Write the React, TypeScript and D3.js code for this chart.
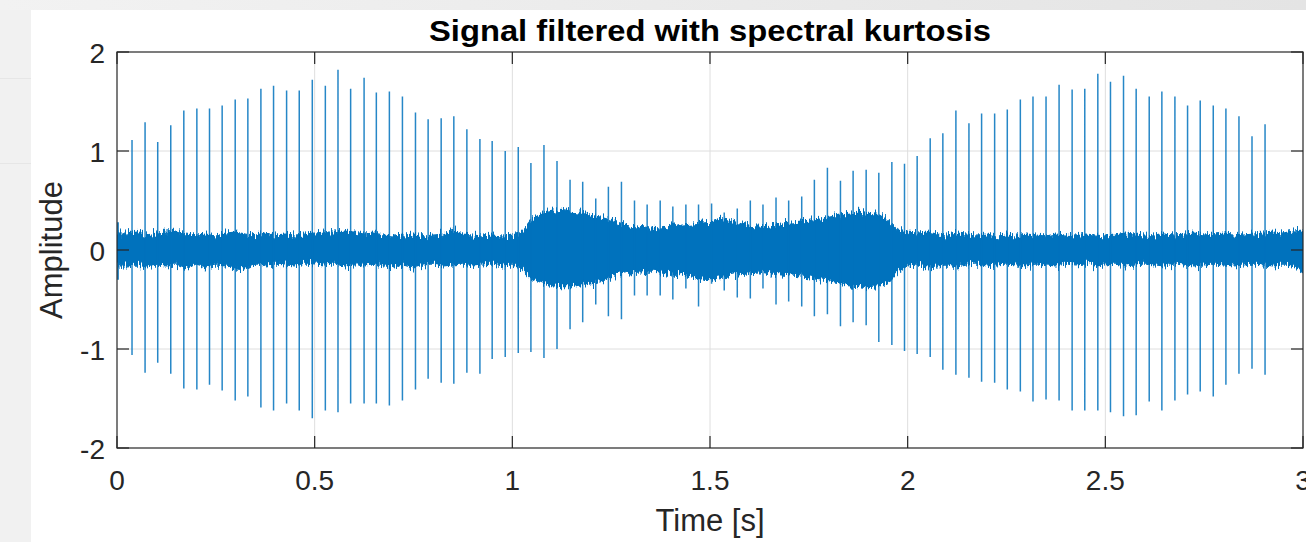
import React from "react";
import * as d3 from "d3";

// Impulse train: time of each impact [s] and its positive / negative peak amplitude
const spikeT = [
  0.038, 0.071, 0.103, 0.136, 0.169, 0.202, 0.234, 0.266, 0.299, 0.331,
  0.364, 0.396, 0.429, 0.461, 0.494, 0.527, 0.559, 0.591, 0.625, 0.656,
  0.689, 0.722, 0.755, 0.787, 0.820, 0.852, 0.885, 0.918, 0.949, 0.982,
  1.015, 1.047, 1.080, 1.113, 1.146, 1.178, 1.211, 1.243, 1.276, 1.309,
  1.341, 1.374, 1.406, 1.439, 1.471, 1.504, 1.536, 1.569, 1.602, 1.634,
  1.667, 1.699, 1.732, 1.764, 1.797, 1.830, 1.862, 1.895, 1.927, 1.960,
  1.992, 2.024, 2.057, 2.089, 2.122, 2.155, 2.187, 2.220, 2.252, 2.285,
  2.317, 2.350, 2.383, 2.416, 2.448, 2.481, 2.513, 2.546, 2.578, 2.611,
  2.643, 2.676, 2.708, 2.740, 2.773, 2.805, 2.838, 2.871, 2.904,
];
const spikeHi = [
  1.11, 1.29, 1.09, 1.26, 1.41, 1.43, 1.43, 1.46, 1.52, 1.53,
  1.63, 1.66, 1.61, 1.61, 1.72, 1.66, 1.82, 1.63, 1.74, 1.59,
  1.60, 1.55, 1.39, 1.32, 1.33, 1.35, 1.22, 1.12, 1.10, 1.00,
  1.04, 0.88, 1.06, 0.90, 0.71, 0.69, 0.52, 0.64, 0.69, 0.50,
  0.46, 0.50, 0.44, 0.46, 0.46, 0.47, 0.38, 0.42, 0.50, 0.46,
  0.53, 0.50, 0.54, 0.71, 0.83, 0.70, 0.80, 0.81, 0.78, 0.89,
  0.87, 0.95, 1.13, 1.18, 1.41, 1.28, 1.38, 1.38, 1.42, 1.52,
  1.55, 1.55, 1.67, 1.62, 1.63, 1.78, 1.70, 1.76, 1.63, 1.55,
  1.60, 1.55, 1.46, 1.51, 1.46, 1.43, 1.35, 1.15, 1.27,
];
const spikeLo = [
  -1.06, -1.24, -1.14, -1.25, -1.40, -1.41, -1.36, -1.42, -1.52, -1.48,
  -1.59, -1.62, -1.55, -1.62, -1.70, -1.62, -1.64, -1.55, -1.55, -1.55,
  -1.57, -1.52, -1.41, -1.30, -1.34, -1.35, -1.24, -1.25, -1.10, -1.08,
  -1.04, -1.03, -1.09, -1.00, -0.80, -0.73, -0.55, -0.67, -0.70, -0.46,
  -0.46, -0.46, -0.50, -0.39, -0.57, -0.34, -0.41, -0.48, -0.49, -0.39,
  -0.55, -0.52, -0.57, -0.67, -0.65, -0.77, -0.73, -0.76, -0.93, -0.96,
  -1.02, -1.05, -1.08, -1.21, -1.26, -1.29, -1.33, -1.34, -1.41, -1.43,
  -1.53, -1.51, -1.52, -1.62, -1.62, -1.62, -1.64, -1.68, -1.67, -1.53,
  -1.62, -1.52, -1.46, -1.43, -1.48, -1.36, -1.25, -1.20, -1.26,
];

// Broadband noise floor: upper / lower envelope sampled every 25 ms from 0 to 3 s
const noiseHi = [
  0.17, 0.17, 0.19, 0.15, 0.17, 0.18, 0.19, 0.16, 0.15, 0.16,
  0.14, 0.17, 0.18, 0.16, 0.15, 0.17, 0.15, 0.16, 0.15, 0.16,
  0.17, 0.18, 0.18, 0.19, 0.18, 0.16, 0.17, 0.15, 0.14, 0.15,
  0.16, 0.14, 0.15, 0.16, 0.20, 0.16, 0.15, 0.14, 0.15, 0.14,
  0.15, 0.18, 0.31, 0.37, 0.39, 0.40, 0.38, 0.37, 0.35, 0.33,
  0.30, 0.27, 0.25, 0.24, 0.22, 0.21, 0.23, 0.26, 0.27, 0.28,
  0.29, 0.32, 0.30, 0.27, 0.24, 0.23, 0.25, 0.27, 0.28, 0.29,
  0.30, 0.31, 0.33, 0.35, 0.37, 0.38, 0.37, 0.36, 0.30, 0.20,
  0.18, 0.17, 0.18, 0.16, 0.15, 0.17, 0.16, 0.15, 0.16, 0.14,
  0.15, 0.14, 0.16, 0.15, 0.14, 0.16, 0.15, 0.14, 0.16, 0.15,
  0.14, 0.15, 0.17, 0.16, 0.15, 0.14, 0.16, 0.15, 0.16, 0.17,
  0.15, 0.16, 0.17, 0.16, 0.15, 0.16, 0.17, 0.18, 0.17, 0.19,
  0.20,
];
const noiseLo = [
  -0.16, -0.16, -0.15, -0.17, -0.15, -0.16, -0.15, -0.19, -0.14, -0.17,
  -0.15, -0.16, -0.18, -0.19, -0.14, -0.15, -0.14, -0.15, -0.16, -0.13,
  -0.14, -0.15, -0.14, -0.16, -0.15, -0.15, -0.14, -0.16, -0.17, -0.15,
  -0.18, -0.15, -0.14, -0.16, -0.15, -0.14, -0.16, -0.15, -0.14, -0.16,
  -0.15, -0.19, -0.29, -0.33, -0.36, -0.37, -0.37, -0.35, -0.33, -0.32,
  -0.27, -0.25, -0.23, -0.22, -0.21, -0.22, -0.24, -0.25, -0.27, -0.29,
  -0.30, -0.28, -0.26, -0.24, -0.23, -0.22, -0.24, -0.25, -0.26, -0.27,
  -0.28, -0.30, -0.31, -0.33, -0.36, -0.37, -0.38, -0.37, -0.33, -0.22,
  -0.16, -0.15, -0.17, -0.16, -0.15, -0.17, -0.15, -0.14, -0.16, -0.15,
  -0.14, -0.15, -0.16, -0.14, -0.15, -0.16, -0.14, -0.15, -0.14, -0.16,
  -0.15, -0.14, -0.16, -0.15, -0.14, -0.15, -0.16, -0.14, -0.15, -0.16,
  -0.15, -0.14, -0.15, -0.16, -0.15, -0.14, -0.15, -0.16, -0.15, -0.16,
  -0.22,
];
const noiseStep = 0.025;

// Start-up transient at t = 0
const edgeT = 0;
const edgeHi = 0.28;
const edgeLo = -0.3;

const xTicks = [0, 0.5, 1, 1.5, 2, 2.5, 3];
const yTicks = [-2, -1, 0, 1, 2];
const xTickLabels = ["0", "0.5", "1", "1.5", "2", "2.5", "3"];
const yTickLabels = ["-2", "-1", "0", "1", "2"];

const W = 1306;
const H = 542;
const FONT = "'Liberation Sans', Arial, Helvetica, sans-serif";
const BLUE = "#0072BD";
const AX = "#262626";

export default function App() {
  const x = d3.scaleLinear().domain([0, 3]).range([117, 1303]);
  const y = d3.scaleLinear().domain([-2, 2]).range([448, 52]);
  const [x0, x1] = x.range();
  const [yb, yt] = y.range();

  const noiseT = noiseHi.map((_, i) => i * noiseStep);
  const band = d3
    .area<number>()
    .x((_, i) => x(noiseT[i]))
    .y0((_, i) => y(noiseLo[i]))
    .y1((_, i) => y(noiseHi[i]))(noiseHi) as string;

  const spikes = spikeT
    .map((t, i) => `M${x(t)},${y(spikeHi[i])}L${x(t)},${y(spikeLo[i])}`)
    .join("");

  const tickLen = 12;

  return (
    <svg
      width={W}
      height={H}
      style={{ position: "fixed", left: 0, top: 0, display: "block" }}
    >
      <defs>
        <linearGradient id="topStrip" x1="0" x2="1" y1="0" y2="0">
          <stop offset="0" stopColor="#f2f2f2" />
          <stop offset="0.5" stopColor="#ebebeb" />
          <stop offset="1" stopColor="#e4e4e4" />
        </linearGradient>
        <clipPath id="plotClip">
          <rect x={x0} y={yt} width={x1 - x0} height={yb - yt} />
        </clipPath>
        {/* ragged edge of the densely sampled trace (vertical displacement only) */}
        <filter
          id="ragged"
          x="-0.01"
          y="-0.3"
          width="1.02"
          height="1.6"
          colorInterpolationFilters="sRGB"
        >
          <feTurbulence type="fractalNoise" baseFrequency="0.6 0.06" numOctaves={2} seed={7} result="turb" />
          <feColorMatrix
            in="turb"
            type="matrix"
            values="0 0 0 0 0.5  0 1 0 0 0  0 0 0 0 0  0 0 0 0 1"
            result="shift"
          />
          <feDisplacementMap
            in="SourceGraphic"
            in2="shift"
            scale={16}
            xChannelSelector="R"
            yChannelSelector="G"
          />
        </filter>
      </defs>

      {/* surrounding canvas and figure panel */}
      <rect x={0} y={0} width={W} height={H} fill="#f1f1f1" />
      <rect x={0} y={0} width={W} height={10} fill="url(#topStrip)" />
      <rect x={0} y={78} width={31} height={1} fill="#e6e6e6" />
      <rect x={0} y={163} width={31} height={1} fill="#e6e6e6" />
      <rect x={31} y={10} width={W - 31} height={H - 10} fill="#ffffff" />

      {/* grid */}
      <g stroke="#dedede" strokeWidth={1}>
        {xTicks.slice(1, -1).map((t) => (
          <line key={`gx${t}`} x1={x(t)} x2={x(t)} y1={yt} y2={yb} />
        ))}
        {yTicks.slice(1, -1).map((v) => (
          <line key={`gy${v}`} x1={x0} x2={x1} y1={y(v)} y2={y(v)} />
        ))}
      </g>

      {/* signal */}
      <g clipPath="url(#plotClip)">
        <g filter="url(#ragged)">
          <path d={band} fill={BLUE} stroke={BLUE} strokeWidth={1.2} strokeLinejoin="round" />
        </g>
        <line
          x1={x(edgeT) + 1}
          x2={x(edgeT) + 1}
          y1={y(edgeHi)}
          y2={y(edgeLo)}
          stroke={BLUE}
          strokeWidth={1.6}
        />
        <path d={spikes} stroke={BLUE} strokeWidth={1.5} fill="none" opacity={0.85} />
      </g>

      {/* axes box and ticks */}
      <g stroke={AX} strokeWidth={1.2} fill="none">
        <rect x={x0} y={yt} width={x1 - x0} height={yb - yt} />
        {xTicks.map((t) => (
          <g key={`tx${t}`}>
            <line x1={x(t)} x2={x(t)} y1={yb} y2={yb - tickLen} />
            <line x1={x(t)} x2={x(t)} y1={yt} y2={yt + tickLen} />
          </g>
        ))}
        {yTicks.map((v) => (
          <g key={`ty${v}`}>
            <line x1={x0} x2={x0 + tickLen} y1={y(v)} y2={y(v)} />
            <line x1={x1} x2={x1 - tickLen} y1={y(v)} y2={y(v)} />
          </g>
        ))}
      </g>

      {/* tick labels */}
      <g fill={AX} fontFamily={FONT} fontSize={28}>
        {xTicks.map((t, i) => (
          <text key={`lx${t}`} x={x(t)} y={yb + 42} textAnchor="middle">
            {xTickLabels[i]}
          </text>
        ))}
        {yTicks.map((v, i) => (
          <text key={`ly${v}`} x={x0 - 12} y={y(v) + 11} textAnchor="end">
            {yTickLabels[i]}
          </text>
        ))}
      </g>

      {/* axis labels and title */}
      <text
        x={(x0 + x1) / 2}
        y={531}
        textAnchor="middle"
        fontFamily={FONT}
        fontSize={31}
        fill={AX}
      >
        Time [s]
      </text>
      <text
        transform={`translate(62,${(yt + yb) / 2}) rotate(-90)`}
        textAnchor="middle"
        fontFamily={FONT}
        fontSize={31}
        fill={AX}
      >
        Amplitude
      </text>
      <text
        x={(x0 + x1) / 2}
        y={41}
        textAnchor="middle"
        fontFamily={FONT}
        fontSize={30}
        fontWeight="bold"
        fill="#000000"
        textLength={562}
        lengthAdjust="spacingAndGlyphs"
      >
        Signal filtered with spectral kurtosis
      </text>
    </svg>
  );
}
